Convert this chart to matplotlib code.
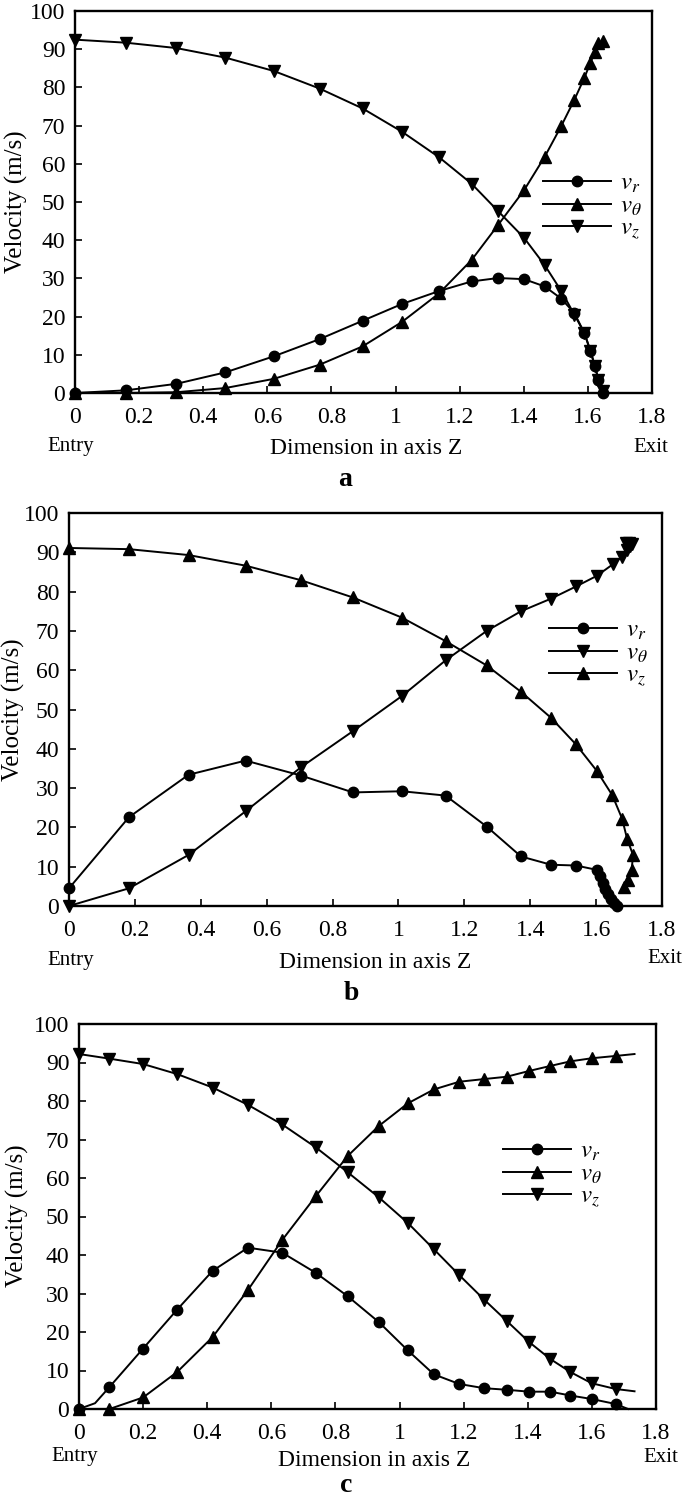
import matplotlib.pyplot as plt

plt.rcParams['font.family'] = 'Liberation Serif'
plt.rcParams['mathtext.fontset'] = 'stix'

W, H = 685, 1501

# ---- panel a ----
z_a = [0, 0.159, 0.316, 0.469, 0.620, 0.763, 0.897, 1.020, 1.136, 1.237,
       1.320, 1.401, 1.465, 1.517, 1.558, 1.589, 1.608, 1.622, 1.633, 1.646]
vr_a = [0, 0.7, 2.4, 5.4, 9.6, 14.1, 18.9, 23.3, 26.7, 29.2,
        30.1, 29.8, 27.9, 24.7, 20.9, 15.7, 11.1, 7.0, 3.5, 0]
vt_a = [0, 0, 0.2, 1.3, 3.7, 7.4, 12.2, 18.6, 26.1, 34.8,
        44.0, 53.1, 61.8, 69.9, 76.8, 82.5, 86.5, 89.3, 91.6, 92.2]
vz_a = [92.5, 91.7, 90.3, 87.8, 84.3, 79.7, 74.5, 68.4, 61.7, 54.8,
        47.6, 40.6, 33.5, 26.7, 20.5, 15.7, 10.9, 7.0, 3.5, 0.4]

# ---- panel b ----
z_b = [0, 0.182, 0.363, 0.536, 0.704, 0.862, 1.010, 1.143, 1.268, 1.372, 1.463, 1.539]
vr_b = [4.5, 22.6, 33.4, 37.0, 33.2, 28.9, 29.2, 28.1, 20.2, 12.6, 10.5, 10.3]
vr_b_zt = [1.602, 1.612, 1.620, 1.628, 1.636, 1.644, 1.653, 1.663]
vr_b_t = [9.2, 7.6, 5.9, 4.2, 3.0, 1.8, 0.8, 0]
vt_b = [0, 4.5, 13.0, 24.1, 35.3, 44.5, 53.4, 62.5, 70.0, 75.0, 78.2, 81.3]
vt_b_zt = [1.602, 1.650, 1.679, 1.695, 1.704, 1.708, 1.700, 1.690]
vt_b_t = [84.0, 86.9, 88.9, 90.6, 91.6, 92.0, 92.3, 92.4]
vz_b = [91.1, 90.8, 89.3, 86.6, 82.9, 78.5, 73.4, 67.4, 61.2, 54.5, 47.9, 41.1]
vz_b_zt = [1.602, 1.649, 1.679, 1.694, 1.712, 1.708, 1.697, 1.686]
vz_b_t = [34.4, 28.2, 22.2, 17.1, 13.0, 9.2, 6.6, 4.8]

# ---- panel c ----
z_c = [0, 0.095, 0.200, 0.306, 0.417, 0.527, 0.634, 0.738, 0.838, 0.935,
       1.026, 1.107, 1.186, 1.264, 1.334, 1.404, 1.470, 1.533, 1.599, 1.674]
vr_c = [0, 5.7, 15.7, 25.8, 35.9, 41.9, 40.6, 35.4, 29.3, 22.6,
        15.2, 9.0, 6.5, 5.4, 5.0, 4.5, 4.5, 3.5, 2.6, 1.3]
vt_c = [0, 0, 3.0, 9.6, 18.7, 30.9, 43.9, 55.2, 65.7, 73.5,
        79.4, 83.0, 85.0, 85.7, 86.3, 87.8, 89.1, 90.3, 91.1, 91.7]
vz_c = [92.2, 91.0, 89.6, 87.0, 83.5, 79.0, 73.9, 68.0, 61.5, 55.0,
        48.3, 41.5, 34.8, 28.4, 22.9, 17.4, 13.0, 9.6, 6.7, 5.2]
# line ends past the last marker
vr_c_end = (1.713, 0)
vt_c_end = (1.733, 92.2)
vz_c_end = (1.733, 4.6)

xticks = [0, 0.2, 0.4, 0.6, 0.8, 1, 1.2, 1.4, 1.6, 1.8]
xlabels = ['0', '0.2', '0.4', '0.6', '0.8', '1', '1.2', '1.4', '1.6', '1.8']
yticks = list(range(0, 101, 10))

fig = plt.figure(figsize=(W / 100, H / 100), dpi=100)


def fx(x):
    return x / W


def fy(y):
    return 1 - y / H


def make_axes(l, t, r, b):
    ax = fig.add_axes([fx(l), fy(b), (r - l) / W, (b - t) / H])
    ax.set_xlim(0, 1.8)
    ax.set_ylim(0, 100)
    ax.set_xticks(xticks)
    ax.set_xticklabels(xlabels)
    ax.set_yticks(yticks)
    ax.tick_params(direction='in', length=5, width=1.2, labelsize=17)
    ax.tick_params(axis='x', pad=10)
    ax.tick_params(axis='y', pad=7)
    for s in ax.spines.values():
        s.set_linewidth(1.7)
    return ax


def line(ax, x, y, m, label, ms=8, markevery=None):
    ax.plot(x, y, color='black', lw=1.4, marker=m, ms=ms, label=label,
            markevery=markevery, clip_on=False)


def decorate(ax, ylab_x, ylab_y, entry, exitp, dim, letter, letter_txt, leg_xy):
    ax.set_ylabel('Velocity (m/s)', fontsize=18)
    ax.yaxis.set_label_coords(fx(ylab_x), fy(ylab_y), transform=fig.transFigure)
    ax.yaxis.label.set_va('center')
    ax.set_xlabel('Dimension in axis Z', fontsize=17)
    ax.xaxis.set_label_coords(fx(dim[0]), fy(dim[1]), transform=fig.transFigure)
    ax.xaxis.label.set_va('center')
    fig.text(fx(entry[0]), fy(entry[1]), 'Entry', fontsize=15, ha='center', va='center')
    fig.text(fx(exitp[0]), fy(exitp[1]), 'Exit', fontsize=15, ha='center', va='center')
    fig.text(fx(letter[0]), fy(letter[1]), letter_txt, fontsize=20, fontweight='bold',
             ha='center', va='center')
    ax.legend(loc='center left', bbox_to_anchor=(fx(leg_xy[0]), fy(leg_xy[1])),
              bbox_transform=fig.transFigure, frameon=False, fontsize=18,
              handlelength=2.7, handletextpad=0.4, labelspacing=0.0,
              borderpad=0, borderaxespad=0)


# panel a
ax = make_axes(75, 11, 652, 393)
line(ax, z_a, vr_a, 'o', r'$v_r$', ms=7.5)
line(ax, z_a, vt_a, '^', r'$v_\theta$')
line(ax, z_a, vz_a, 'v', r'$v_z$')
decorate(ax, 16, 202, (71, 447), (651, 447), (366, 449), (345, 480), 'a', (543, 207))

# panel b
ax = make_axes(69, 513, 662, 906)
line(ax, z_b + vr_b_zt, vr_b + vr_b_t, 'o', r'$v_r$', ms=7.5)
line(ax, z_b + vt_b_zt, vt_b + vt_b_t, 'v', r'$v_\theta$')
line(ax, z_b + vz_b_zt, vz_b + vz_b_t, '^', r'$v_z$')
decorate(ax, 13, 710, (71, 960), (665, 959), (375, 963), (351, 993), 'b', (549, 654))

# panel c
ax = make_axes(79, 1024, 656, 1409)
n = len(z_c)
xr = [z_c[0], 0.05] + z_c[1:] + [vr_c_end[0]]
yr = [vr_c[0], 1.5] + vr_c[1:] + [vr_c_end[1]]
line(ax, xr, yr, 'o', r'$v_r$', ms=7.5, markevery=[0] + list(range(2, n + 1)))
line(ax, z_c + [vt_c_end[0]], vt_c + [vt_c_end[1]], '^', r'$v_\theta$',
     markevery=list(range(n)))
line(ax, z_c + [vz_c_end[0]], vz_c + [vz_c_end[1]], 'v', r'$v_z$',
     markevery=list(range(n)))
decorate(ax, 17, 1216, (75, 1457), (661, 1457), (374, 1460), (346, 1486), 'c', (503, 1175))

fig.savefig('out.png', dpi=100)
